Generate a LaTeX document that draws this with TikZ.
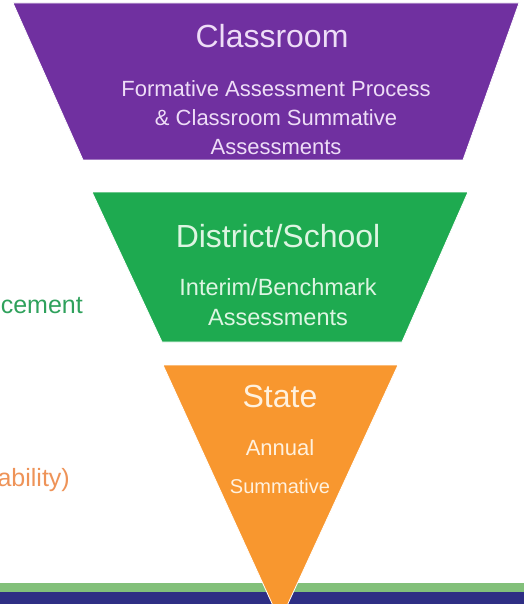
\documentclass[tikz,border=0pt]{standalone}
\usepackage{fontspec}
\setmainfont{Liberation Sans}

\definecolor{classpurple}{HTML}{7030A0}
\definecolor{districtgreen}{HTML}{1EAA50}
\definecolor{stateorange}{HTML}{F8972F}
\definecolor{purpletext}{HTML}{EEDDF7}
\definecolor{greentext}{HTML}{DDF5E2}
\definecolor{orangetext}{HTML}{FFF1DE}
\definecolor{sidegreen}{HTML}{2FA15C}
\definecolor{sideorange}{HTML}{EE9358}
\definecolor{bandgreen}{HTML}{82C07A}
\definecolor{bandnavy}{HTML}{2E2E84}

\begin{document}
\begin{tikzpicture}[x=1pt,y=-1pt,
    title/.style={font=\fontsize{32}{36}\selectfont},
    subtitle/.style={font=\fontsize{22}{29}\selectfont},
    sidetext/.style={font=\fontsize{25}{28}\selectfont, anchor=base east}]

  \useasboundingbox (0,0) rectangle (524,604);
  \clip (0,0) rectangle (524,604);

  % bands at the bottom
  \fill[bandgreen] (0,583) rectangle (524,592);
  \fill[bandnavy] (0,592) rectangle (524,604);

  % the funnel
  \begin{scope}[draw=white, line width=.8pt]
    \filldraw[fill=classpurple] (13,3) -- (519,3) -- (463,160) -- (83,160) -- cycle;
    \filldraw[fill=districtgreen] (92,192) -- (468,192) -- (402,342) -- (162,342) -- cycle;
    \filldraw[fill=stateorange] (163,365) -- (398,365) -- (280,621) -- cycle;
  \end{scope}

  % base anchor of a wrapped text sits on its last line
  \begin{scope}[every node/.style={inner sep=0pt, anchor=base, align=center}]
    \node[title, text=purpletext]    (classroom) at (272,48)  {Classroom};
    \node[subtitle, text=purpletext] (formative) at (276,155) {Formative Assessment Process\\
      \& Classroom Summative\\ Assessments};
    \node[title, text=greentext]     (district)  at (278,247) {District/School};
    \node[subtitle, text=greentext, font=\fontsize{23.5}{30}\selectfont]
                                     (interim)   at (278,325) {Interim/Benchmark\\ Assessments};
    \node[title, text=orangetext]    (state)     at (280,407) {State};
    \node[subtitle, text=orangetext] (annual)    at (280,455) {Annual};
    \node[subtitle, text=orangetext, font=\fontsize{20}{24}\selectfont]
                                     (summative) at (280,493) {Summative};
    \node[sidetext, text=sidegreen]  (cement)    at (83,313)  {cement};
    \node[sidetext, text=sideorange] (ability)   at (70,486)  {ability)};
  \end{scope}

\end{tikzpicture}
\end{document}
